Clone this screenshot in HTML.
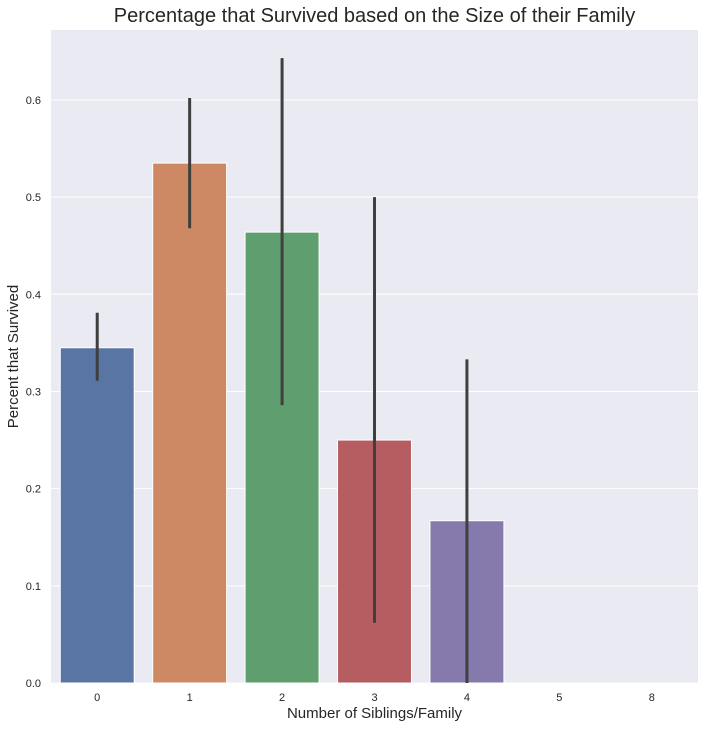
<!DOCTYPE html>
<html><head><meta charset="utf-8"><style>
body{margin:0;background:#fff;font-family:"Liberation Sans",sans-serif}
</style></head><body>
<svg id="c" width="712" height="727" xmlns="http://www.w3.org/2000/svg"></svg>
<script>
const categories=["0","1","2","3","4","5","8"];
const values=[0.345,0.535,0.464,0.25,0.167,0,0];
const ciLow=[0.311,0.468,0.286,0.062,0,null,null];
const ciHigh=[0.381,0.602,0.643,0.5,0.333,null,null];
const yTicks=[0,0.1,0.2,0.3,0.4,0.5,0.6];
const colors=["#5975a4","#cc8963","#5f9e6e","#b55d60","#857aab","#8d7866","#d095bf"];
const L=51,R=698,T=30,B=683,ymax=0.672;
const svg=document.getElementById('c');const NS="http://www.w3.org/2000/svg";
function y(v){return B-(v/ymax)*(B-T);}
const bw=(R-L)/categories.length;
function x(i){return L+bw*(i+0.5);}
function mk(t,a,p){const e=document.createElementNS(NS,t);for(const k in a)e.setAttribute(k,a[k]);(p||svg).appendChild(e);return e;}
const bg=mk('rect',{x:L,y:T,width:R-L,height:B-T,fill:'#eaeaf2'});


yTicks.forEach(t=>{
 const g=mk('line',{x1:L,x2:R,y1:y(t),y2:y(t),stroke:'#fff','stroke-width':1});
 
 
 const tx=mk('text',{x:L-10,y:y(t)+4,'text-anchor':'end','font-size':11,fill:'#262626'});
 tx.textContent=t.toFixed(1);
 
 
});
categories.forEach((c,i)=>{
 const w=bw*0.8;
 const r=mk('rect',{x:x(i)-w/2,y:y(values[i]),width:w,height:B-y(values[i]),fill:colors[i],stroke:'#fff','stroke-width':1});
 
 
 if(ciLow[i]!==null){
  const l=mk('line',{x1:x(i),x2:x(i),y1:y(ciLow[i]),y2:y(ciHigh[i]),stroke:'#3f3f3f','stroke-width':3});
  
  
 }
 const tx=mk('text',{x:x(i),y:B+18,'text-anchor':'middle','font-size':11,fill:'#262626'});
 tx.textContent=c;
 
 
});
const ti=mk('text',{x:(L+R)/2,y:22,'text-anchor':'middle','font-size':20,fill:'#262626'});
ti.textContent="Percentage that Survived based on the Size of their Family";


const xt=mk('text',{x:(L+R)/2,y:718,'text-anchor':'middle','font-size':15,fill:'#262626'});
xt.textContent="Number of Siblings/Family";


const yt=mk('text',{x:0,y:0,'text-anchor':'middle','font-size':15,fill:'#262626',transform:'translate(18,'+((T+B)/2)+') rotate(-90)'});
yt.textContent="Percent that Survived";


</script>
</body></html>
